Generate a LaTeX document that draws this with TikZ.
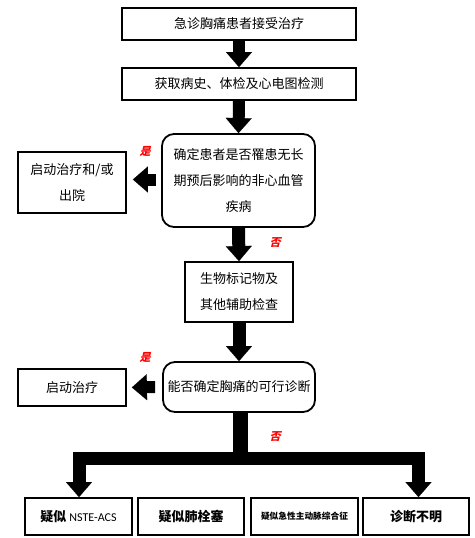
\documentclass[tikz,border=0pt]{standalone}
\usepackage{fontspec}
\newfontfamily\cjk{Noto Sans CJK SC}
\newfontfamily\cjksl[FakeSlant=0.25]{Noto Sans CJK SC}
\newfontfamily\calf{Carlito}
\usetikzlibrary{arrows.meta}
\begin{document}
\begin{tikzpicture}[x=1pt,y=-1pt,
  box/.style={draw=black, line width=1.8pt, inner sep=0pt, align=center,
    minimum width=#1, font=\cjk\fontsize{13}{26}\selectfont},
  box/.default=100pt,
  rbox/.style={box=#1, rounded corners=12pt},
  rbox/.default=150pt,
  bbox/.style={box=#1, minimum height=37pt, font=\cjk\bfseries\fontsize{13}{13}\selectfont},
  blk/.style={line width=12pt, line join=miter,
    -{Triangle[width=26pt,length=15pt,line width=0.1pt]}},
  lab/.style={text=red, inner sep=0pt, font=\cjksl\bfseries\fontsize{11}{11}\selectfont}
]
\useasboundingbox (0,0) rectangle (474,538);
\fill[white] (0,0) rectangle (474,538);

\node[box=234pt, minimum height=32pt] (b1) at (239,24) {急诊胸痛患者接受治疗};
\node[box=234pt, minimum height=32pt] (b2) at (239,84) {获取病史、体检及心电图检测};
\node[rbox=153pt, minimum height=93pt] (b3) at (238.5,180.5) {确定患者是否罹患无长\\期预后影响的非心血管\\疾病};
\node[box=108pt, minimum height=61pt] (l1) at (72,182.5) {启动治疗和/或\\出院};
\node[box=108pt, minimum height=60pt] (b4) at (239,292) {生物标记物及\\其他辅助检查};
\node[rbox=152pt, minimum height=50pt] (b5) at (239,387) {能否确定胸痛的可行诊断};
\node[box=108pt, minimum height=37pt] (l2) at (72,387.5) {启动治疗};

\node[bbox=107pt] (c1) at (78.5,516.5) {疑似 {\calf\mdseries\fontsize{12}{12}\selectfont NSTE-ACS}};
\node[bbox=106pt] (c2) at (191,516.5) {疑似肺栓塞};
\node[bbox=107pt, font=\cjk\bfseries\fontsize{8.7}{9}\selectfont] (c3) at (304.5,516.5) {疑似急性主动脉综合征};
\node[bbox=106pt] (c4) at (416,516.5) {诊断不明};

\draw[blk] (b1.south) -- (b2.north);
\draw[blk] (b2.south) -- (b3.north);
\draw[blk, line width=13pt] (b3.south) -- (b4.north);
\draw[blk, line width=13pt] (b4.south) -- (b5.north);
\draw[blk, shorten <=5pt, shorten >=6pt] (b3.west |- 0,179.5) -- (l1.east |- 0,179.5);
\draw[blk, shorten <=7pt, shorten >=5pt] (b5.west) -- (l2.east);

\coordinate (j) at (240.5,458);
\coordinate (jl) at (79,458);
\coordinate (jr) at (418.5,458);
\draw[line width=15pt] (b5.south -| j) -- (j);
\draw[blk, line width=13pt] (j) -- (jl) -- (c1.north -| jl);
\draw[blk, line width=13pt] (j) -- (jr) -- (c4.north -| jr);

\node[lab] (y1) at (145,151) {是};
\node[lab] (n1) at (275,243) {否};
\node[lab] (y2) at (145,357) {是};
\node[lab] (n2) at (275,437) {否};
\end{tikzpicture}
\end{document}
